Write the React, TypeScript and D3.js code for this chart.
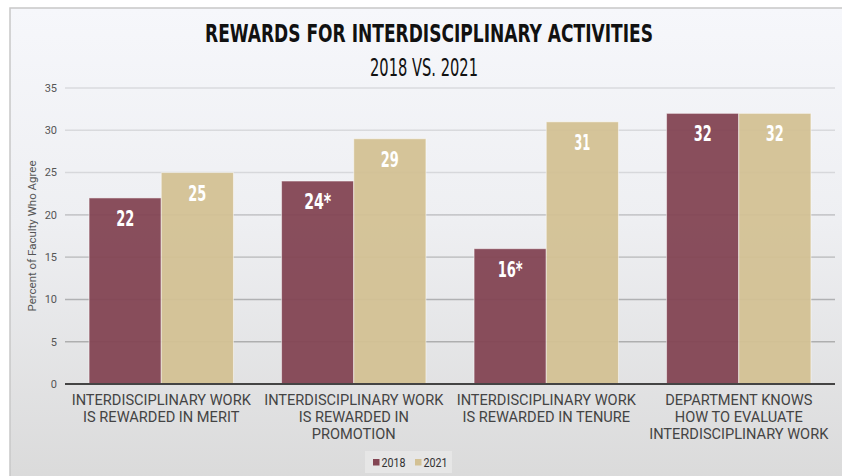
import React from "react";
import * as d3 from "d3";

const categories: string[][] = [
  ["INTERDISCIPLINARY WORK", "IS REWARDED IN MERIT"],
  ["INTERDISCIPLINARY WORK", "IS REWARDED IN", "PROMOTION"],
  ["INTERDISCIPLINARY WORK", "IS REWARDED IN TENURE"],
  ["DEPARTMENT KNOWS", "HOW TO EVALUATE", "INTERDISCIPLINARY WORK"],
];
const series = ["2018", "2021"];
const values2018 = [22, 24, 16, 32];
const values2021 = [25, 29, 31, 32];
const labels2018 = ["22", "24*", "16*", "32"];
const labels2021 = ["25", "29", "31", "32"];
const yTicks = [0, 5, 10, 15, 20, 25, 30, 35];
const colors = ["#834553", "#d3c194"];

const W = 842;
const H = 476;
const condensed = "'Liberation Sans Narrow', 'DejaVu Sans Condensed', 'Roboto Condensed', 'Arial Narrow', sans-serif";
const sans = "Roboto, 'Liberation Sans', Arial, sans-serif";

function labelWidth(s: string) {
  let w = 0;
  for (const c of s) w += c === "*" ? 9 : c === "1" ? 7 : 9;
  return w;
}

export default function App() {
  const left = 65, right = 835, top = 88, bottom = 384;
  const x0 = d3.scaleBand<number>().domain(d3.range(categories.length)).range([left, right]).paddingInner(0.25).paddingOuter(0.125);
  const x1 = d3.scaleBand<string>().domain(series).range([0, x0.bandwidth()]);
  const y = d3.scaleLinear().domain([0, 35]).range([bottom, top]);
  const data = [values2018, values2021];
  const labs = [labels2018, labels2021];

  return (
    <svg width={W} height={H} style={{ position: "absolute", left: 0, top: 0 }}>
      <defs>
        <linearGradient id="bg" x1="0" y1="0" x2="0" y2="1">
          <stop offset="0" stopColor="#f6f7fb" />
          <stop offset="0.45" stopColor="#eeeff2" />
          <stop offset="1" stopColor="#dadada" />
        </linearGradient>
      </defs>
      <rect x={0} y={0} width={W} height={H} fill="#ffffff" />
      <rect x={10} y={8} width={W} height={H} fill="url(#bg)" stroke="#c8c8c8" strokeWidth={1.5} />
      <text x={429} y={42} textAnchor="middle" fontFamily={condensed} fontWeight="bold" fontSize={25} fill="#111" textLength={448} lengthAdjust="spacingAndGlyphs">
        REWARDS FOR INTERDISCIPLINARY ACTIVITIES
      </text>
      <text x={424} y={76} textAnchor="middle" fontFamily={condensed} fontSize={25} fill="#111" textLength={108} lengthAdjust="spacingAndGlyphs">
        2018 VS. 2021
      </text>
      {yTicks.map((t) => (
        <g key={t}>
          {t > 0 && <line x1={left} x2={right} y1={y(t)} y2={y(t)} stroke="#000" strokeOpacity={t > 20 ? 0.1 : t > 10 ? 0.16 : 0.24} strokeWidth={1.6} />}
          <text x={57} y={y(t)} dy="0.35em" textAnchor="end" fontFamily={sans} fontSize={11} fill="#555">
            {t}
          </text>
        </g>
      ))}
      <text transform={`translate(36,${(top + bottom) / 2}) rotate(-90)`} textAnchor="middle" fontFamily={sans} fontSize={11.5} fill="#555">
        Percent of Faculty Who Agree
      </text>
      {categories.map((cat, i) =>
        series.map((s, j) => {
          const v = data[j][i];
          const bx = (x0(i) as number) + (x1(s) as number);
          const lab = labs[j][i];
          return (
            <g key={`${i}-${s}`}>
              <rect x={bx} y={y(v)} width={x1.bandwidth()} height={bottom - y(v)} fill={colors[j]} fillOpacity={0.95} stroke="#fff" strokeOpacity={0.5} strokeWidth={1} />
              <text x={bx + x1.bandwidth() / 2} y={y(v) + 28} textAnchor="middle" fontFamily={condensed} fontWeight="bold" fontSize={21} fill="#fff" textLength={labelWidth(lab)} lengthAdjust="spacingAndGlyphs">
                {lab}
              </text>
            </g>
          );
        })
      )}
      <line x1={left} x2={right} y1={bottom} y2={bottom} stroke="#444" strokeWidth={2} />
      {categories.map((cat, i) => (
        <text key={i} x={(x0(i) as number) + x0.bandwidth() / 2} textAnchor="middle" fontFamily={sans} fontSize={14.6} fill="#444">
          {cat.map((line, k) => (
            <tspan key={k} x={(x0(i) as number) + x0.bandwidth() / 2} y={405 + k * 17}>
              {line}
            </tspan>
          ))}
        </text>
      ))}
      <g>
        <rect x={365} y={451} width={87} height={22} fill="#e6e6e6" />
        {series.map((s, j) => (
          <g key={s} transform={`translate(${373 + j * 42},0)`}>
            <rect x={0} y={459} width={6.5} height={6.5} fill={colors[j]} />
            <text x={8.5} y={462.5} dy="0.35em" fontFamily={sans} fontSize={13} fill="#333" textLength={24} lengthAdjust="spacingAndGlyphs">
              {s}
            </text>
          </g>
        ))}
      </g>
    </svg>
  );
}
